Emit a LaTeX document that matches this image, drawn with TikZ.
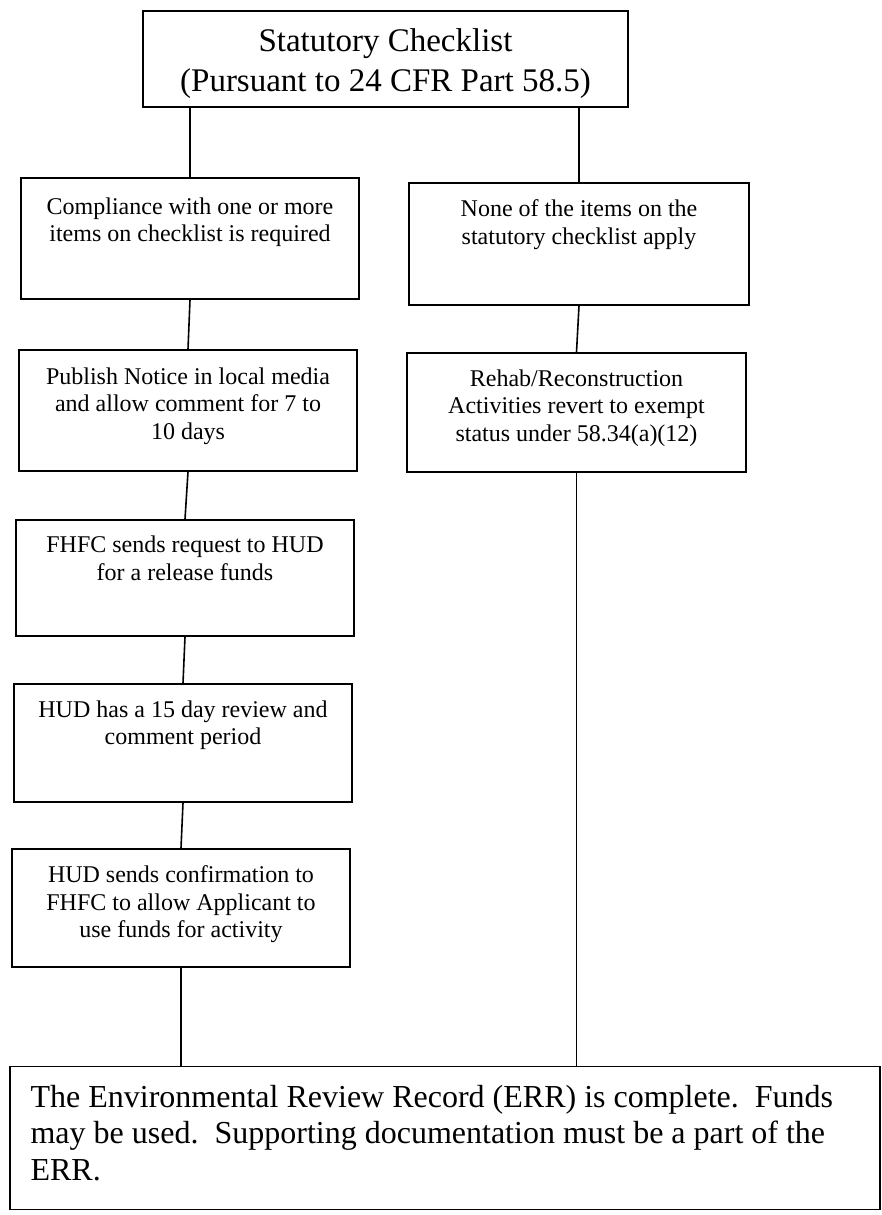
\documentclass[tikz,border=0pt]{standalone}
\usepackage{fontspec}
\setmainfont{Liberation Serif}

\begin{document}
\begin{tikzpicture}[x=0.5pt,y=-0.5pt,
  flowbox/.style={draw,line width=0.8pt,inner sep=0pt,minimum width=169pt},
  boxtext/.style={inner sep=0pt,align=center,anchor=north,font=\fontsize{12}{13.75}\selectfont},
  link/.style={line width=0.8pt}]

\useasboundingbox (0,0) rectangle (882,1215);

\node[flowbox,minimum width=242.5pt,minimum height=48pt] (check) at (385.5,59) {};
\node[inner sep=0pt,align=center,font=\fontsize{16.5}{20}\selectfont] (check-txt) at (385.5,64) {Statutory Checklist\\(Pursuant to 24 CFR Part 58.5)};

\node[flowbox,minimum height=60.5pt] (comply) at (190,238.5) {};
\node[flowbox,minimum height=60.5pt] (notice) at (188,410.5) {};
\node[flowbox,minimum height=58pt] (request) at (185,578) {};
\node[flowbox,minimum height=59pt] (review) at (183,743) {};
\node[flowbox,minimum height=59pt] (confirm) at (181,908) {};

\node[flowbox,minimum width=170pt,minimum height=61pt] (none) at (579,244) {};
\node[flowbox,minimum width=169.5pt,minimum height=59.5pt] (rehab) at (576.5,412.5) {};

\node[flowbox,minimum width=435pt,minimum height=71.5pt] (err) at (445,1138) {};

\node[boxtext,yshift=-10pt] (comply-txt) at (comply.north) {Compliance with one or more\\items on checklist is required};
\node[boxtext,yshift=-9pt] (notice-txt) at (notice.north) {Publish Notice in local media\\and allow comment for 7 to\\10 days};
\node[boxtext,yshift=-8.2pt] (request-txt) at (request.north) {FHFC sends request to HUD\\for a release funds};
\node[boxtext,yshift=-8.5pt] (review-txt) at (review.north) {HUD has a 15 day review and\\comment period};
\node[boxtext,yshift=-8.7pt] (confirm-txt) at (confirm.north) {HUD sends confirmation to\\FHFC to allow Applicant to\\use funds for activity};
\node[boxtext,yshift=-8.5pt] (none-txt) at (none.north) {None of the items on the\\statutory checklist apply};
\node[boxtext,yshift=-8.5pt] (rehab-txt) at (rehab.north) {Rehab/Reconstruction\\Activities revert to exempt\\status under 58.34(a)(12)};

\node[anchor=north west,inner sep=0pt,align=left,font=\fontsize{16}{18.2}\selectfont,xshift=10.5pt,yshift=-9.5pt] (err-txt) at (err.north west) {The Environmental Review Record (ERR) is complete.\ \ Funds\\may be used.\ \ Supporting documentation must be a part of the\\ERR.};

\draw[link] (check.south -| comply.north) -- (comply.north);
\draw[link] (check.south -| none.north) -- (none.north);
\draw[link] (comply.south) -- (notice.north);
\draw[link] (notice.south) -- (request.north);
\draw[link] (request.south) -- (review.north);
\draw[link] (review.south) -- (confirm.north);
\draw[link] (none.south) -- (rehab.north);
\draw[link] (confirm.south) -- (confirm.south |- err.north);
\draw[link] (rehab.south) -- (rehab.south |- err.north);

\end{tikzpicture}
\end{document}
